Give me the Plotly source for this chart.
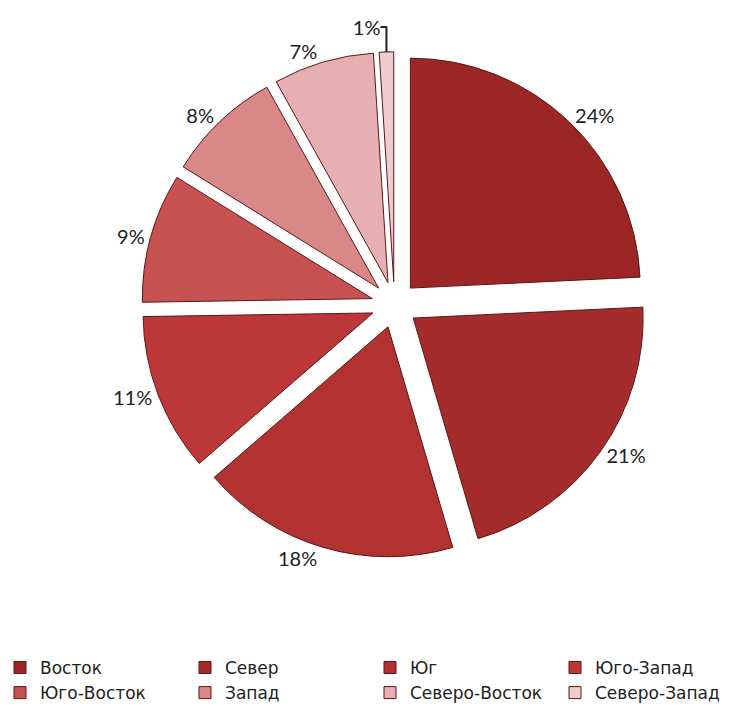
import plotly.graph_objects as go

# Regional shares, percent
regions = ["Восток", "Север", "Юг", "Юго-Запад",
           "Юго-Восток", "Запад", "Северо-Восток", "Северо-Запад"]
shares = [24, 21, 18, 11, 9, 8, 7, 1]
colors = ["#9c2626", "#a52c2c", "#b23232", "#bc3838",
          "#c75252", "#d88886", "#e6b0b2", "#edcdd0"]

fig = go.Figure(
    go.Pie(
        labels=regions,
        values=shares,
        sort=False,
        direction="clockwise",
        rotation=0,
        pull=[0.1] * len(shares),
        marker=dict(colors=colors, line=dict(color="#5e1616", width=1)),
        texttemplate="%{value}%",
        textposition="outside",
        textfont=dict(family="Lato, sans-serif", size=20, color="#222222"),
        hoverinfo="label+value",
        domain=dict(x=[0.19, 0.869], y=[0.22, 0.9276]),
    )
)

fig.update_layout(
    width=745,
    height=715,
    margin=dict(l=0, r=0, t=0, b=0, autoexpand=False),
    paper_bgcolor="white",
    plot_bgcolor="white",
    legend=dict(
        orientation="h",
        x=0.0,
        y=0.091,
        xanchor="left",
        yanchor="top",
        entrywidth=140,
        entrywidthmode="pixels",
        itemwidth=30,
        font=dict(family="DejaVu Sans, sans-serif", size=17, color="#222222"),
    ),
)

fig.write_html("out.html")
